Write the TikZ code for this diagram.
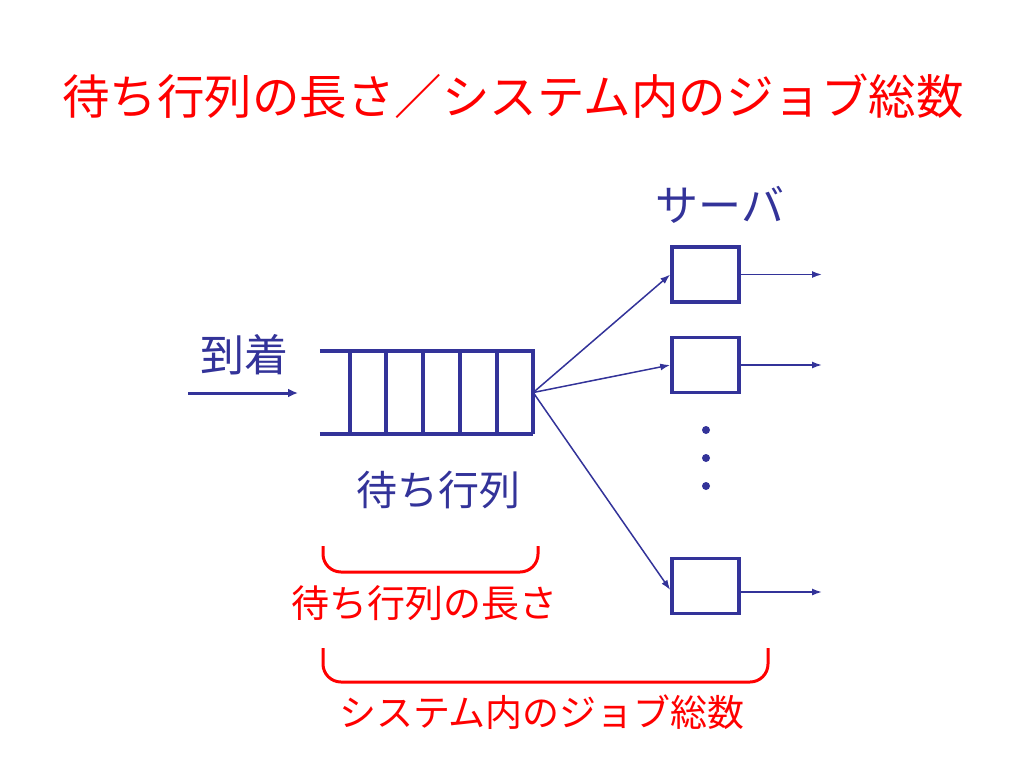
\documentclass[tikz,border=0pt]{standalone}
\usepackage{fontspec}
\setmainfont{Noto Sans CJK JP}
\usetikzlibrary{arrows.meta}
\definecolor{qblue}{RGB}{51,51,153}
\definecolor{qred}{RGB}{255,0,0}
\tikzset{
  fs/.style={font=\fontsize{#1}{#1}\selectfont},
  lbl/.style={inner sep=0pt, text=qblue},
  rlbl/.style={inner sep=0pt, text=qred},
  srv/.style={draw=qblue, line width=3.5pt, minimum width=67pt, minimum height=55pt, inner sep=0pt},
  qline/.style={draw=qblue, line width=3.5pt},
  fan/.style={draw=qblue, line width=1.5pt, -{Latex[length=10pt,width=7pt]}},
  arr/.style={draw=qblue, line width=3pt, -{Latex[length=10pt,width=9pt]}},
  brace/.style={draw=qred, line width=3pt, rounded corners=18pt},
  dotc/.style={circle, fill=qblue, inner sep=0pt, minimum size=8pt},
}
\begin{document}
\begin{tikzpicture}[x=1pt,y=-1pt]
\useasboundingbox (0,0) rectangle (1024,768);
\node[rlbl, fs=47.5] (title) at (513,96) {待ち行列の長さ／システム内のジョブ総数};
\node[lbl, fs=44] (arrlbl) at (244,355) {到着};
\coordinate (a0) at (188,393);
\coordinate (a1) at (298,393);
\draw[arr] (a0) -- (a1);
\node[minimum width=213pt, minimum height=83pt, inner sep=0pt] (q) at (426.5,392.5) {};
\draw[qline] (q.north west) -- (q.north east) -- (q.south east);
\draw[qline] (q.south west) -- (q.south east);
\foreach \x in {350,386,423,460,497} {
  \draw[qline] (\x,351) -- (\x,434);
}
\node[lbl, fs=41] (qlbl) at (438,490) {待ち行列};
\node[lbl, fs=43] (srvlbl) at (720,205) {サーバ};
\node[srv] (s1) at (705.5,274.5) {};
\node[srv] (s2) at (705.5,365) {};
\node[srv] (s3) at (705.5,586) {};
\draw[fan] (q.east) -- (s1.west);
\draw[fan] (q.east) -- (s2.west);
\draw[fan] (q.east) -- ([yshift=-4pt]s3.west);
\coordinate (o1) at (822,274.5);
\coordinate (o2) at (822,365);
\coordinate (o3) at (822,592);
\draw[fan] (s1.east) -- (o1);
\draw[fan] (s2.east) -- (o2);
\draw[fan] (s3.east |- o3) -- (o3);
\node[dotc] (d1) at (706,430) {};
\node[dotc] (d2) at (706,458) {};
\node[dotc] (d3) at (706,486) {};
\draw[brace] (323,546) -- (323,572) -- (538,572) -- (538,546);
\node[rlbl, fs=38] (l1) at (424,603) {待ち行列の長さ};
\draw[brace] (323,648) -- (323,682) -- (768,682) -- (768,648);
\node[rlbl, fs=37] (l2) at (542,712) {システム内のジョブ総数};
\end{tikzpicture}
\end{document}
